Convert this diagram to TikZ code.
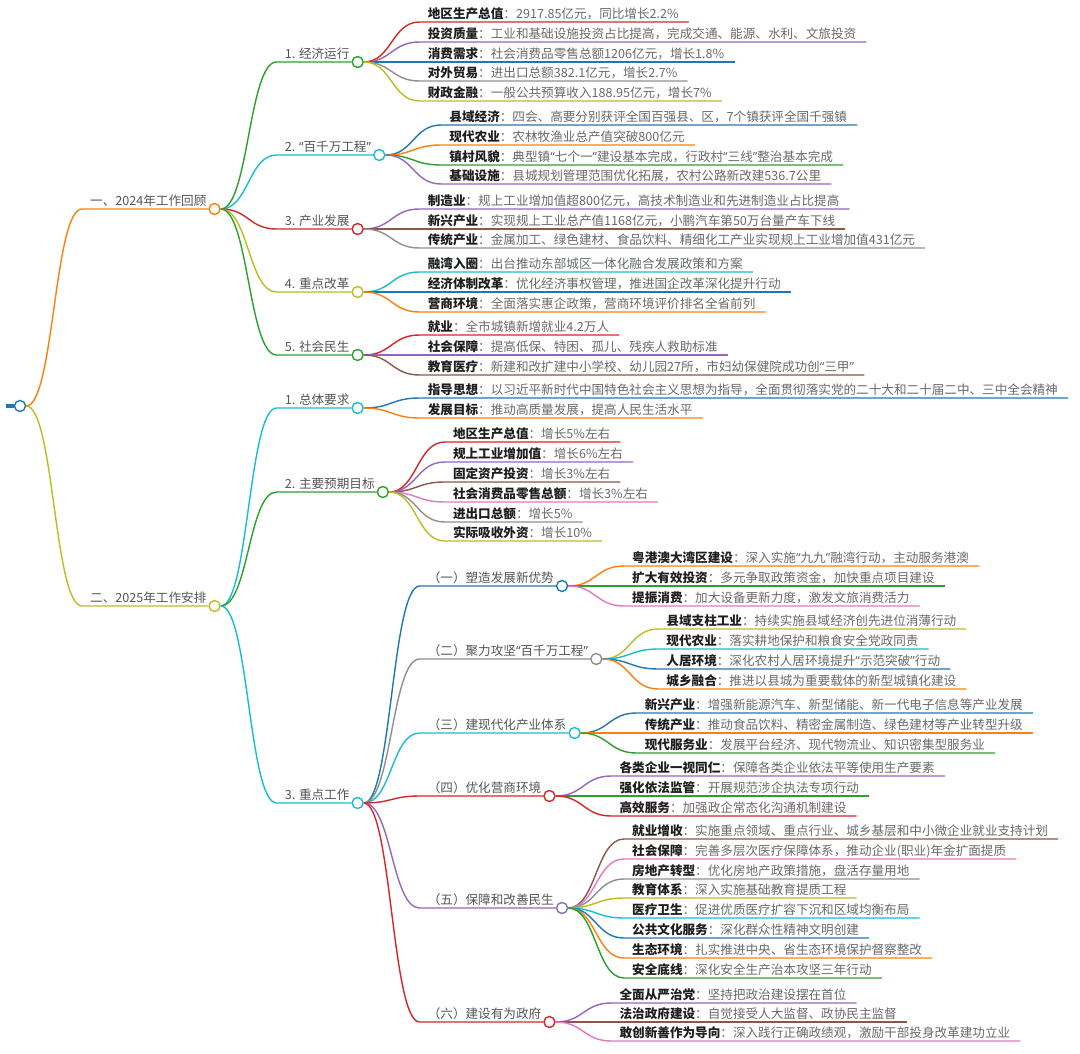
\documentclass[tikz,border=0pt]{standalone}
\usepackage{fontspec}
\setmainfont{Noto Sans CJK SC}
\newfontfamily\latinq{Noto Sans}
\newcommand\oq{{\latinq “}}
\newcommand\cq{{\latinq ”}}
\usetikzlibrary{calc}
\pgfdeclarelayer{bg}
\pgfsetlayers{bg,main}
\definecolor{tbblue}{HTML}{1F77B4}
\definecolor{tborange}{HTML}{FF7F0E}
\definecolor{tbgreen}{HTML}{2CA02C}
\definecolor{tbred}{HTML}{D62728}
\definecolor{tbpurple}{HTML}{9467BD}
\definecolor{tbbrown}{HTML}{8C564B}
\definecolor{tbpink}{HTML}{E377C2}
\definecolor{tbgray}{HTML}{8F8F8F}
\definecolor{tbolive}{HTML}{BCBD22}
\definecolor{tbcyan}{HTML}{17BECF}
\definecolor{labelgray}{HTML}{555555}
\definecolor{descgray}{HTML}{6A6A6A}
\definecolor{keyc}{HTML}{1E1E1E}
\newcommand\mmfs{\fontsize{12.6}{15}\selectfont}
\tikzset{
  lbl/.style={inner sep=0pt, text=labelgray, font=\mmfs},
  leaftxt/.style={inner sep=0pt, text=descgray, font=\mmfs},
  dot/.style={circle, minimum size=11pt, inner sep=0pt, line width=1.4pt, fill=white},
  conn/.style={line width=1.4pt},
}
\newcommand\mmkid[5]{%
  \path let \p1=(#2.center) in
    coordinate (#1-s) at (\x1+62pt,-#3pt)
    coordinate (#1-a) at (\x1+34pt,\y1)
    coordinate (#1-b) at (\x1+34pt,-#3pt)
    node[lbl,anchor=base west] (#1-t) at (\x1+70pt,-#3pt+3.5pt) {#5};
  \node[dot,draw=#4] (#1) at ($(#1-t.base east)+(8pt,-3.5pt)$) {};
  \begin{pgfonlayer}{bg}
    \draw[conn,#4] (#2.east) .. controls (#1-a) and (#1-b) .. (#1-s) -- (#1.west);
  \end{pgfonlayer}
}
\newcommand\mmleaf[6]{%
  \path let \p1=(#2.center) in
    coordinate (#1-s) at (\x1+62pt,-#3pt)
    coordinate (#1-a) at (\x1+34pt,\y1)
    coordinate (#1-b) at (\x1+34pt,-#3pt)
    node[leaftxt,anchor=base west] (#1) at (\x1+70pt,-#3pt+3.5pt) {{\color{keyc}\bfseries #5}：#6};
  \path let \p2=(#1.base east) in coordinate (#1-e) at (\x2+10pt,-#3pt);
  \begin{pgfonlayer}{bg}
    \draw[conn,#4] (#2.east) .. controls (#1-a) and (#1-b) .. (#1-s) -- (#1-e);
  \end{pgfonlayer}
}
\begin{document}
\begin{tikzpicture}[x=1pt,y=1pt]
\useasboundingbox (0,0) rectangle (1080,-1054);
\begin{pgfonlayer}{bg}
\fill[white] (0,0) rectangle (1080,-1054);
\end{pgfonlayer}
% root
\node[dot,draw=tbblue] (root) at (20,-406) {};
\coordinate (rootbar) at (6,-406);
\begin{pgfonlayer}{bg}
\draw[tbblue,line width=3.5pt] (rootbar) -- (root.west);
\end{pgfonlayer}
% level 1
\mmkid{A}{root}{209}{tborange}{一、2024年工作回顾}
\mmkid{B}{root}{606}{tbolive}{二、2025年工作安排}
% level 2 under A
\mmkid{A1}{A}{62}{tbgreen}{1. 经济运行}
\mmkid{A2}{A}{155}{tbcyan}{2. \oq 百千万工程\cq}
\mmkid{A3}{A}{229}{tbred}{3. 产业发展}
\mmkid{A4}{A}{292}{tbolive}{4. 重点改革}
\mmkid{A5}{A}{355}{tbgreen}{5. 社会民生}
% level 2 under B
\mmkid{B1}{B}{408}{tbcyan}{1. 总体要求}
\mmkid{B2}{B}{492}{tbgreen}{2. 主要预期目标}
\mmkid{B3}{B}{803}{tbcyan}{3. 重点工作}
% level 3 under B3
\mmkid{C1}{B3}{586}{tbblue}{（一）塑造发展新优势}
\mmkid{C2}{B3}{659}{tbgray}{（二）聚力攻坚\oq 百千万工程\cq}
\mmkid{C3}{B3}{733}{tbcyan}{（三）建现代化产业体系}
\mmkid{C4}{B3}{796}{tbred}{（四）优化营商环境}
\mmkid{C5}{B3}{908}{tbpurple}{（五）保障和改善民生}
\mmkid{C6}{B3}{1022}{tbred}{（六）建设有为政府}
% leaves A1
\mmleaf{a11}{A1}{22}{tbred}{地区生产总值}{2917.85亿元，同比增长2.2\%}
\mmleaf{a12}{A1}{42}{tbpurple}{投资质量}{工业和基础设施投资占比提高，完成交通、能源、水利、文旅投资}
\mmleaf{a13}{A1}{62}{tbblue}{消费需求}{社会消费品零售总额1206亿元，增长1.8\%}
\mmleaf{a14}{A1}{81}{tbgray}{对外贸易}{进出口总额382.1亿元，增长2.7\%}
\mmleaf{a15}{A1}{101}{tbolive}{财政金融}{一般公共预算收入188.95亿元，增长7\%}
% leaves A2
\mmleaf{a21}{A2}{125}{tbblue}{县域经济}{四会、高要分别获评全国百强县、区，7个镇获评全国千强镇}
\mmleaf{a22}{A2}{145}{tborange}{现代农业}{农林牧渔业总产值突破800亿元}
\mmleaf{a23}{A2}{165}{tbgreen}{镇村风貌}{典型镇\oq 七个一\cq 建设基本完成，行政村\oq 三线\cq 整治基本完成}
\mmleaf{a24}{A2}{184}{tbpurple}{基础设施}{县城规划管理范围优化拓展，农村公路新改建536.7公里}
% leaves A3
\mmleaf{a31}{A3}{209}{tbpurple}{制造业}{规上工业增加值超800亿元，高技术制造业和先进制造业占比提高}
\mmleaf{a32}{A3}{229}{tbbrown}{新兴产业}{实现规上工业总产值1168亿元，小鹏汽车第50万台量产车下线}
\mmleaf{a33}{A3}{248}{tbgray}{传统产业}{金属加工、绿色建材、食品饮料、精细化工产业实现规上工业增加值431亿元}
% leaves A4
\mmleaf{a41}{A4}{272}{tbcyan}{融湾入圈}{出台推动东部城区一体化融合发展政策和方案}
\mmleaf{a42}{A4}{292}{tbblue}{经济体制改革}{优化经济事权管理，推进国企改革深化提升行动}
\mmleaf{a43}{A4}{312}{tborange}{营商环境}{全面落实惠企政策，营商环境评价排名全省前列}
% leaves A5
\mmleaf{a51}{A5}{335}{tbred}{就业}{全市城镇新增就业4.2万人}
\mmleaf{a52}{A5}{355}{tbpurple}{社会保障}{提高低保、特困、孤儿、残疾人救助标准}
\mmleaf{a53}{A5}{375}{tbbrown}{教育医疗}{新建和改扩建中小学校、幼儿园27所，市妇幼保健院成功创\oq 三甲\cq}
% leaves B1
\mmleaf{b11}{B1}{398}{tbblue}{指导思想}{以习近平新时代中国特色社会主义思想为指导，全面贯彻落实党的二十大和二十届二中、三中全会精神}
\mmleaf{b12}{B1}{418}{tborange}{发展目标}{推动高质量发展，提高人民生活水平}
% leaves B2
\mmleaf{b21}{B2}{442}{tbred}{地区生产总值}{增长5\%左右}
\mmleaf{b22}{B2}{462}{tbpurple}{规上工业增加值}{增长6\%左右}
\mmleaf{b23}{B2}{482}{tbbrown}{固定资产投资}{增长3\%左右}
\mmleaf{b24}{B2}{502}{tbpink}{社会消费品零售总额}{增长3\%左右}
\mmleaf{b25}{B2}{522}{tbgray}{进出口总额}{增长5\%}
\mmleaf{b26}{B2}{541}{tbolive}{实际吸收外资}{增长10\%}
% leaves C1
\mmleaf{c11}{C1}{566}{tborange}{粤港澳大湾区建设}{深入实施\oq 九九\cq 融湾行动，主动服务港澳}
\mmleaf{c12}{C1}{586}{tbgreen}{扩大有效投资}{多元争取政策资金，加快重点项目建设}
\mmleaf{c13}{C1}{606}{tbpink}{提振消费}{加大设备更新力度，激发文旅消费活力}
% leaves C2
\mmleaf{c21}{C2}{629}{tbolive}{县域支柱工业}{持续实施县域经济创先进位消薄行动}
\mmleaf{c22}{C2}{649}{tbcyan}{现代农业}{落实耕地保护和粮食安全党政同责}
\mmleaf{c23}{C2}{669}{tbblue}{人居环境}{深化农村人居环境提升\oq 示范突破\cq 行动}
\mmleaf{c24}{C2}{689}{tborange}{城乡融合}{推进以县城为重要载体的新型城镇化建设}
% leaves C3
\mmleaf{c31}{C3}{713}{tbblue}{新兴产业}{增强新能源汽车、新型储能、新一代电子信息等产业发展}
\mmleaf{c32}{C3}{733}{tborange}{传统产业}{推动食品饮料、精密金属制造、绿色建材等产业转型升级}
\mmleaf{c33}{C3}{753}{tbgreen}{现代服务业}{发展平台经济、现代物流业、知识密集型服务业}
% leaves C4
\mmleaf{c41}{C4}{776}{tbpurple}{各类企业一视同仁}{保障各类企业依法平等使用生产要素}
\mmleaf{c42}{C4}{796}{tbgreen}{强化依法监管}{开展规范涉企执法专项行动}
\mmleaf{c43}{C4}{816}{tbred}{高效服务}{加强政企常态化沟通机制建设}
% leaves C5
\mmleaf{c51}{C5}{839}{tbbrown}{就业增收}{实施重点领域、重点行业、城乡基层和中小微企业就业支持计划}
\mmleaf{c52}{C5}{859}{tbpink}{社会保障}{完善多层次医疗保障体系，推动企业(职业)年金扩面提质}
\mmleaf{c53}{C5}{879}{tbgray}{房地产转型}{优化房地产政策措施，盘活存量用地}
\mmleaf{c54}{C5}{898}{tbolive}{教育体系}{深入实施基础教育提质工程}
\mmleaf{c55}{C5}{918}{tbcyan}{医疗卫生}{促进优质医疗扩容下沉和区域均衡布局}
\mmleaf{c56}{C5}{938}{tbblue}{公共文化服务}{深化群众性精神文明创建}
\mmleaf{c57}{C5}{958}{tborange}{生态环境}{扎实推进中央、省生态环境保护督察整改}
\mmleaf{c58}{C5}{978}{tbgreen}{安全底线}{深化安全生产治本攻坚三年行动}
% leaves C6
\mmleaf{c61}{C6}{1003}{tbpurple}{全面从严治党}{坚持把政治建设摆在首位}
\mmleaf{c62}{C6}{1022}{tbbrown}{法治政府建设}{自觉接受人大监督、政协民主监督}
\mmleaf{c63}{C6}{1041}{tbpink}{敢创新善作为导向}{深入践行正确政绩观，激励干部投身改革建功立业}
\end{tikzpicture}
\end{document}
